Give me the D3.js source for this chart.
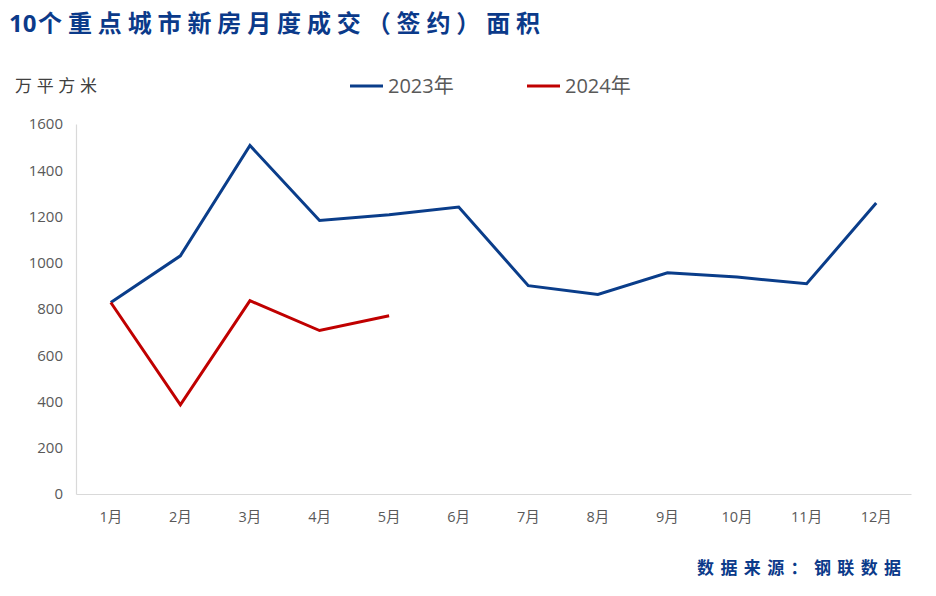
<!DOCTYPE html>
<html><head><meta charset="utf-8">
<script src="https://cdn.jsdelivr.net/npm/d3@7"></script>
<style>body{margin:0;background:#fff}svg{display:block}</style>
</head><body>
<script>
const months = ["1月","2月","3月","4月","5月","6月","7月","8月","9月","10月","11月","12月"];
const series2023 = [828,1030,1507,1183,1208,1241,901,863,957,938,909,1258];
const series2024 = [828,386,836,707,771];
const yTicks = [0,200,400,600,800,1000,1200,1400,1600];
const seriesNames = ["2023年","2024年"];
const colors = ["#0a3d8a","#c00000"];

const W=936,H=596;
const svg=d3.select("body").append("svg").attr("width",W).attr("height",H);
const m={left:76,right:25,top:124,bottom:102};
const x=d3.scaleBand().domain(months).range([m.left,W-m.right]);
const y=d3.scaleLinear().domain([0,1600]).range([H-m.bottom,m.top]);

// title
svg.append("text").attr("x",9).attr("y",32)
  .attr("font-family","'Open Sans',sans-serif").attr("font-weight","bold")
  .attr("font-size",24).attr("fill","#0b3a8a").text("10");
svg.append("text").attr("x",38).attr("y",32)
  .attr("font-family","'Noto Sans CJK SC',sans-serif").attr("font-weight","bold")
  .attr("font-size",24).attr("fill","#0b3a8a")
  .attr("textLength",502).attr("lengthAdjust","spacing")
  .text("个重点城市新房月度成交（签约）面积");

// unit
svg.append("text").attr("x",15).attr("y",92)
  .attr("font-family","'Noto Sans CJK SC',sans-serif").attr("font-size",17)
  .attr("fill","#404040").attr("textLength",82).attr("lengthAdjust","spacing")
  .text("万平方米");

// axes
const yAxis=d3.axisLeft(y).tickValues(yTicks).tickFormat(d3.format("d")).tickSize(0).tickPadding(13);
const gy=svg.append("g").attr("transform",`translate(${m.left},0)`).call(yAxis);
gy.select(".domain").attr("stroke","#d9d9d9").attr("stroke-width",1.2);
gy.selectAll("text").attr("font-family","'Open Sans',sans-serif").attr("font-size",15).attr("fill","#595959");

const xAxis=d3.axisBottom(x).tickSize(0).tickPadding(18);
const gx=svg.append("g").attr("transform",`translate(0,${y(0)})`).call(xAxis);
gx.select(".domain").attr("stroke","#d9d9d9").attr("stroke-width",1.2);
gx.selectAll("text").attr("font-family","'Open Sans','Noto Sans CJK SC',sans-serif").attr("font-size",14.5).attr("fill","#595959");

// lines
const line=d3.line().x((d,i)=>x(months[i])+x.bandwidth()/2).y(d=>y(d));
[series2023,series2024].forEach((s,k)=>{
  svg.append("path").datum(s).attr("d",line).attr("fill","none")
    .attr("stroke",colors[k]).attr("stroke-width",3).attr("stroke-linejoin","miter");
});

// legend
const legX=[350,527];
seriesNames.forEach((n,k)=>{
  svg.append("line").attr("x1",legX[k]).attr("x2",legX[k]+33).attr("y1",86).attr("y2",86)
    .attr("stroke",colors[k]).attr("stroke-width",3);
  svg.append("text").attr("x",legX[k]+38).attr("y",93)
    .attr("font-family","'Open Sans','Noto Sans CJK SC',sans-serif").attr("font-size",20)
    .attr("fill","#595959").text(n);
});

// source
svg.append("text").attr("x",697).attr("y",574)
  .attr("font-family","'Noto Sans CJK SC',sans-serif").attr("font-weight","bold")
  .attr("font-size",17).attr("fill","#0b3a8a")
  .attr("textLength",204).attr("lengthAdjust","spacing")
  .text("数据来源：钢联数据");
</script>
</body></html>
